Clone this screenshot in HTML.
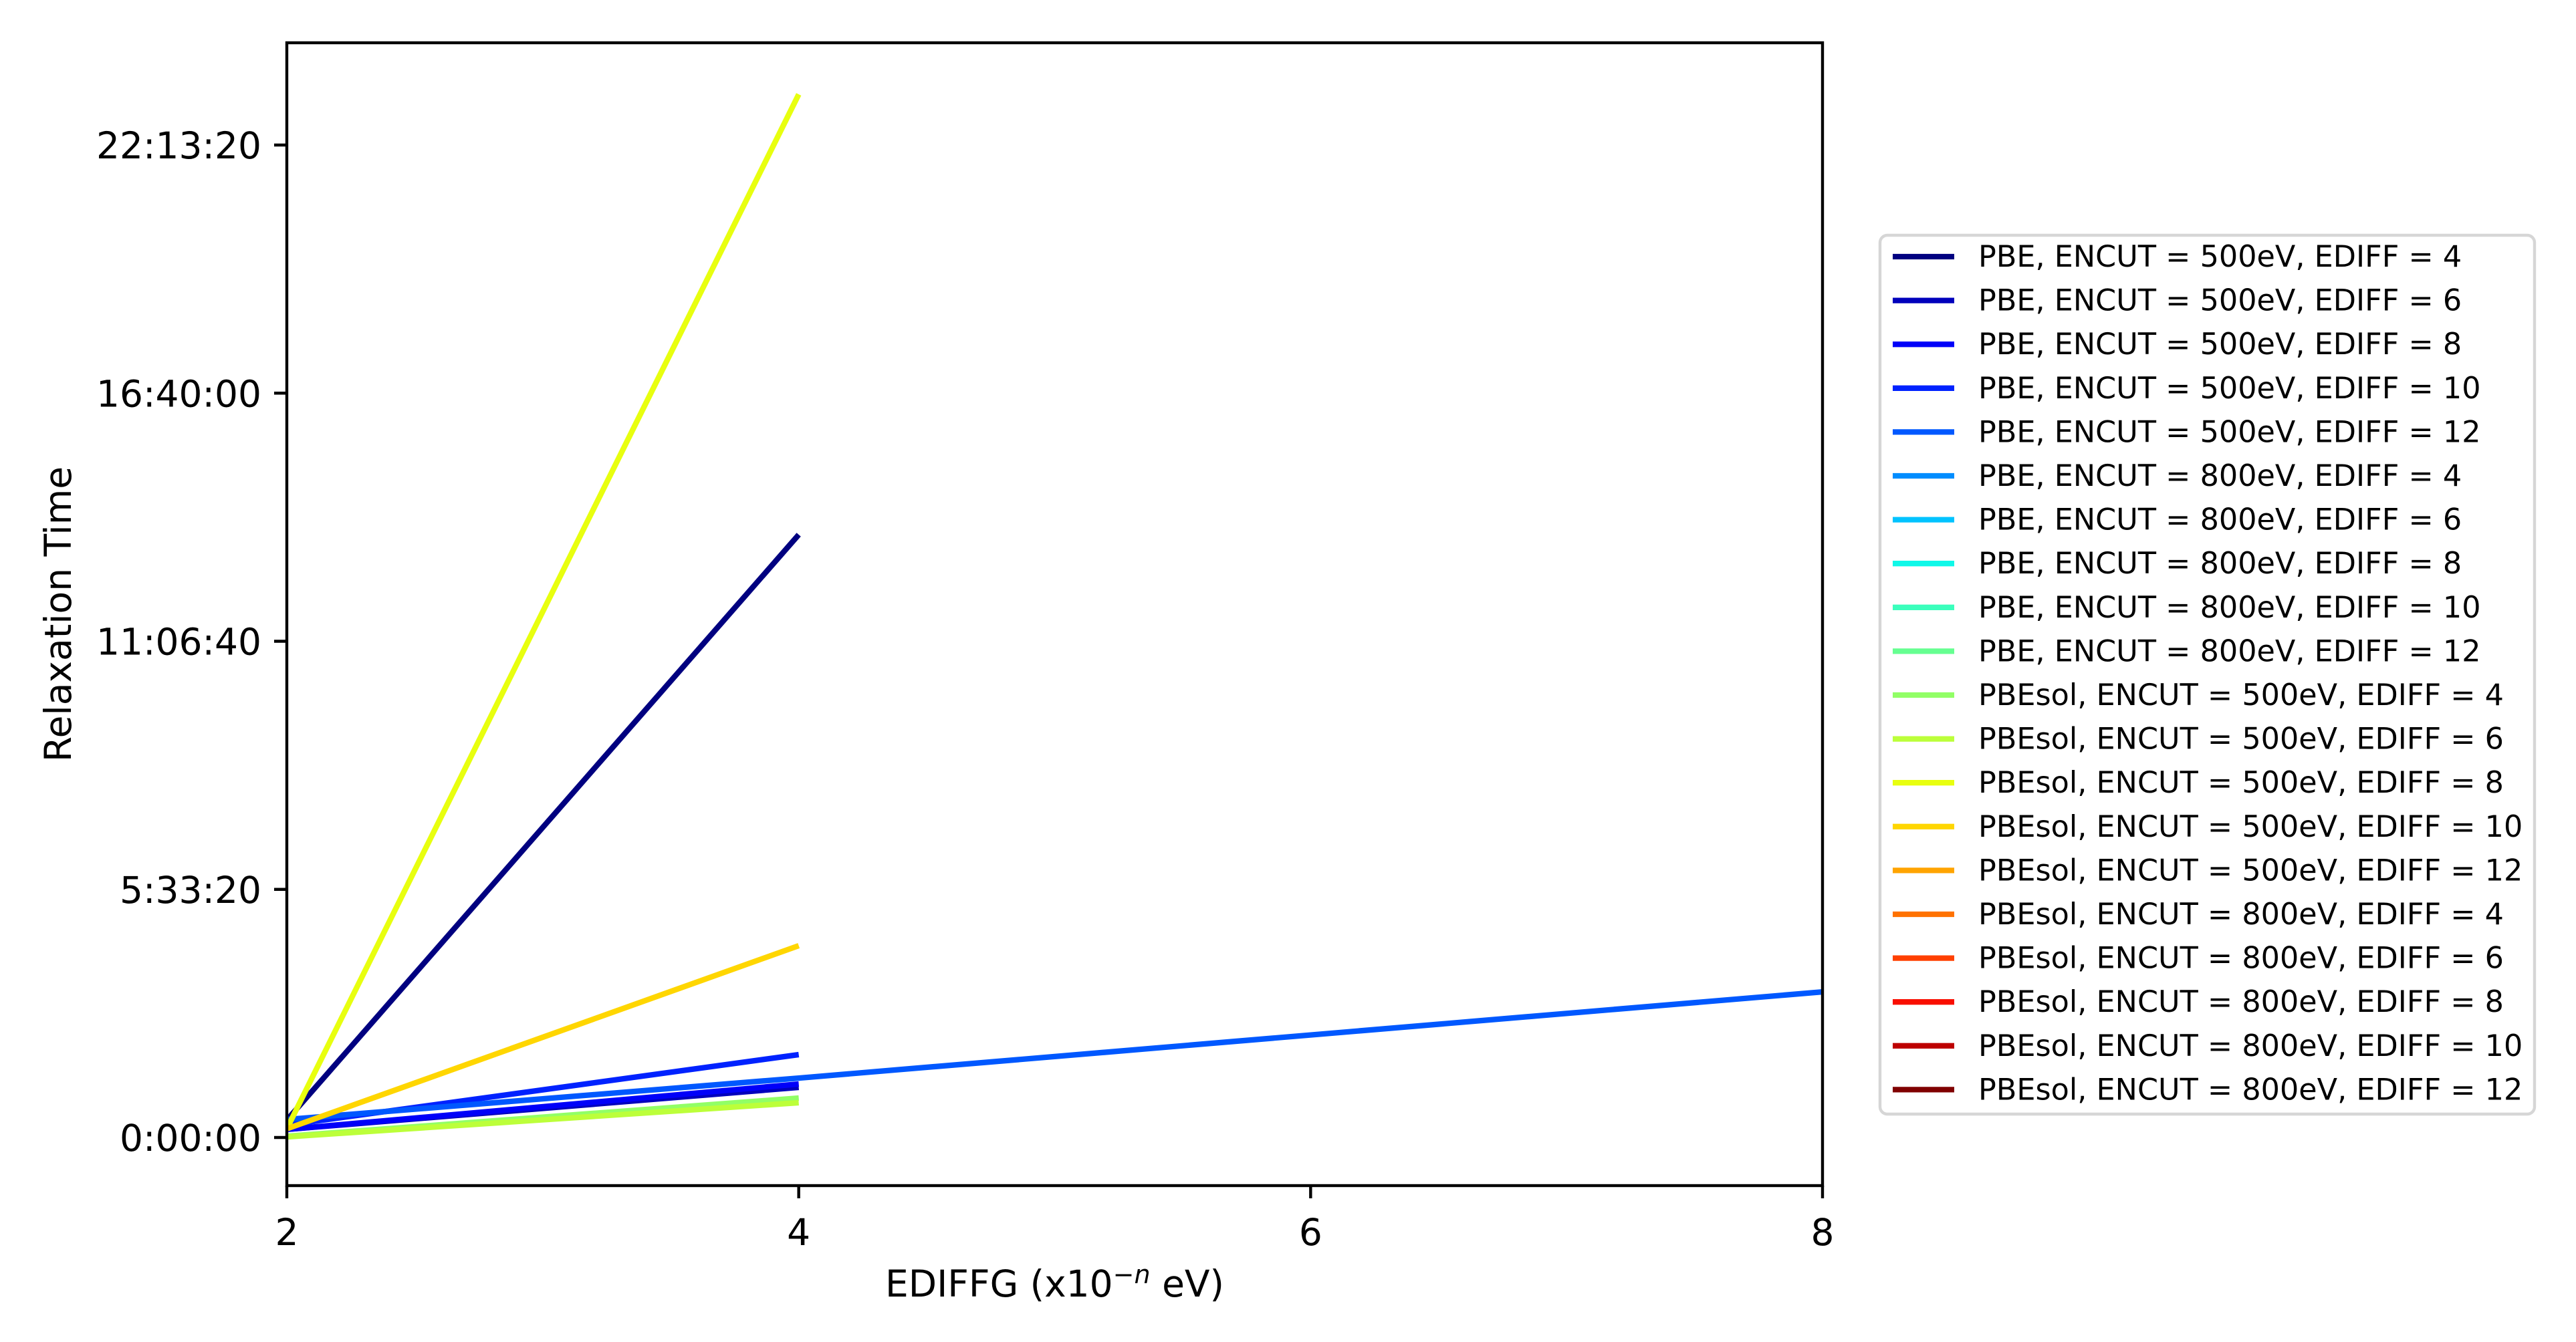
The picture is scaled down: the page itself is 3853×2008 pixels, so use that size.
<!DOCTYPE html>
<html><head><meta charset="utf-8">
<style>html,body{margin:0;padding:0;background:#fff;}svg{display:block;font-family:"DejaVu Sans","Liberation Sans",sans-serif;}</style>
</head><body>
<svg id="chart" width="3853" height="2008" viewBox="0 0 3853 2008" xmlns="http://www.w3.org/2000/svg"></svg>
<script>
const labels = [
"PBE, ENCUT = 500eV, EDIFF = 4","PBE, ENCUT = 500eV, EDIFF = 6","PBE, ENCUT = 500eV, EDIFF = 8","PBE, ENCUT = 500eV, EDIFF = 10","PBE, ENCUT = 500eV, EDIFF = 12",
"PBE, ENCUT = 800eV, EDIFF = 4","PBE, ENCUT = 800eV, EDIFF = 6","PBE, ENCUT = 800eV, EDIFF = 8","PBE, ENCUT = 800eV, EDIFF = 10","PBE, ENCUT = 800eV, EDIFF = 12",
"PBEsol, ENCUT = 500eV, EDIFF = 4","PBEsol, ENCUT = 500eV, EDIFF = 6","PBEsol, ENCUT = 500eV, EDIFF = 8","PBEsol, ENCUT = 500eV, EDIFF = 10","PBEsol, ENCUT = 500eV, EDIFF = 12",
"PBEsol, ENCUT = 800eV, EDIFF = 4","PBEsol, ENCUT = 800eV, EDIFF = 6","PBEsol, ENCUT = 800eV, EDIFF = 8","PBEsol, ENCUT = 800eV, EDIFF = 10","PBEsol, ENCUT = 800eV, EDIFF = 12"];
const colors = ["#000080","#0000bc","#0000f9","#0022ff","#0058ff","#008dff","#00c3ff","#0ff8e8","#3affbc","#66ff91","#91ff66","#bcff3a","#e8ff0f","#ffd600","#ffa400","#ff7200","#ff4000","#f90e00","#bd0000","#800000"];
// x values (EDIFFG exponent) and time in seconds per series
const xs0 = [2,4], xs4 = [2,4,8];
const s0 = [1400,48590], s1 = [650,4040], s2 = [650,4310], s3 = [1000,6680], s4 = [1450,4790,11740];
const s10 = [100,3180], s11 = [50,2800], s12 = [700,84090], s13 = [700,15460];
const seriesData = [[xs0,s0],[xs0,s1],[xs0,s2],[xs0,s3],[xs4,s4],null,null,null,null,null,[xs0,s10],[xs0,s11],[xs0,s12],[xs0,s13],null,null,null,null,null,null];
const drawOrder = [0,1,2,3,4,10,11,12,13];
const xTicks = [2,4,6,8];
const yTicks = [0,20000,40000,60000,80000];
const yTickLabels = ["0:00:00","5:33:20","11:06:40","16:40:00","22:13:20"];

const L=429,R=2726,T=64,B=1774;
const X = v => L + (v-2)*(R-L)/6;
const Y = v => 1702 - v*(1702-217)/80000;
const NS="http://www.w3.org/2000/svg";
const svg=document.getElementById('chart');
function mk(tag,attrs,parent){const e=document.createElementNS(NS,tag);for(const k in attrs)e.setAttribute(k,attrs[k]);(parent||svg).appendChild(e);return e;}

const defs=mk('defs',{});const cp=mk('clipPath',{id:'clip'},defs);mk('rect',{x:L,y:T,width:R-L,height:B-T},cp);
const plot=mk('g',{'clip-path':'url(#clip)'});



drawOrder.forEach(i=>{
  const d=seriesData[i];
  const pts=d[0].map((x,j)=>X(x).toFixed(1)+','+Y(d[1][j]).toFixed(1)).join(' ');
  const pl=mk('polyline',{points:pts,fill:'none',stroke:colors[i],'stroke-width':8.3,'stroke-linejoin':'round'},plot);
  
  
});

const frame=mk('rect',{x:L,y:T,width:R-L,height:B-T,fill:'none',stroke:'#000','stroke-width':4.4});



xTicks.forEach(v=>{
  const t=mk('line',{x1:X(v),x2:X(v),y1:B,y2:B+19,stroke:'#000','stroke-width':4.4});
  
  
  const tx=mk('text',{x:X(v),y:B+89,'text-anchor':'middle','font-size':55,fill:'#000'});
  tx.textContent=v;
  
  
});
yTicks.forEach((v,i)=>{
  const t=mk('line',{x1:L-19,x2:L,y1:Y(v),y2:Y(v),stroke:'#000','stroke-width':4.4});
  
  
  const tx=mk('text',{x:L-38,y:Y(v)+20,'text-anchor':'end','font-size':55,fill:'#000'});
  tx.textContent=yTickLabels[i];
  
  
});
const xl=mk('text',{x:(L+R)/2,y:1940,'text-anchor':'middle','font-size':55,fill:'#000'});
xl.innerHTML='EDIFFG (x10<tspan dy="-20" font-size="38" font-style="italic">\u2212n</tspan><tspan dy="20"> eV)</tspan>';


const yl=mk('text',{x:0,y:0,'text-anchor':'middle','font-size':55,fill:'#000',transform:'translate(106,919) rotate(-90)'});
yl.textContent='Relaxation Time';



const lg=mk('g',{});


mk('rect',{x:2812,y:352,width:979,height:1315,rx:11,fill:'#fff',stroke:'#d6d6d6','stroke-width':4.4},lg);
labels.forEach((lab,i)=>{
  const y=384+i*65.6;
  const g=mk('g',{},lg);
  
  
  mk('line',{x1:2831,x2:2923,y1:y,y2:y,stroke:colors[i],'stroke-width':8.3},g);
  const t=mk('text',{x:2959,y:y+15,'font-size':44.5,fill:'#000'},g);
  t.textContent=lab;
});
</script>
</body></html>
